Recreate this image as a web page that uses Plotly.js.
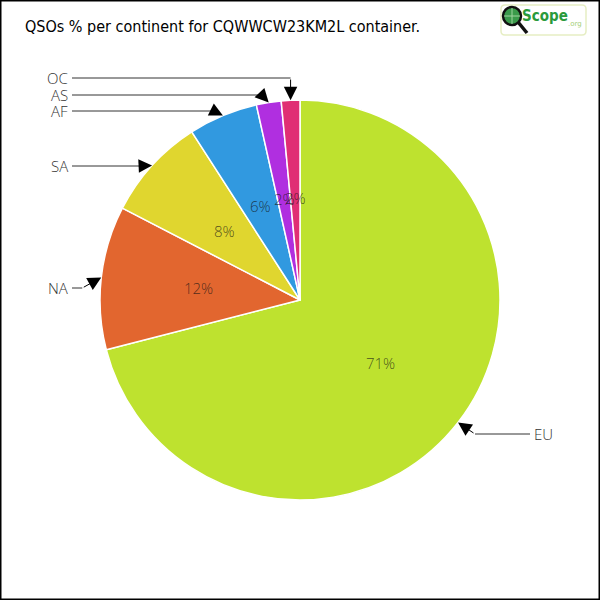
<!DOCTYPE html>
<html>
<head>
<meta charset="utf-8">
<script src="https://cdn.plot.ly/plotly-3.0.1.min.js"></script>
<style>html,body{margin:0;padding:0;background:#fff}#chart{width:600px;height:600px}</style>
</head>
<body>
<div id="chart"></div>
<script>
// ---- data ----
const continents = ['EU', 'NA', 'SA', 'AF', 'AS', 'OC'];
const shares = [71.0, 11.6, 8.3, 5.6, 2.0, 1.5];
const sliceColors = ['#bee22f', '#e2662f', '#e0d62f', '#3199e0', '#b02fe0', '#e02f74'];
const chartTitle = 'QSOs % per continent for CQWWCW23KM2L container.';

// ---- layout geometry (pixels) ----
const W = 600, H = 600, CX = 300, CY = 300, R = 200;
const labelRowY = [434, 288, 166, 111, 95, 78];     // label line rows
const elbowDx = [17, -19, -13, -9, -7, 0];            // elbow offset from tip
const leftLabelX = 70, rightLabelX = 532;

const px = x => x / W, py = y => 1 - y / H;
const total = shares.reduce((a, b) => a + b, 0);

const annotations = [];
const shapes = [];

let cum = 0;
shares.forEach((v, i) => {
  const mid = (cum + v / 2) / total * 2 * Math.PI; // clockwise from top
  cum += v;
  const s = Math.sin(mid), c = Math.cos(mid);
  // percent text
  const rT = 0.51 * R;
  annotations.push({
    xref: 'paper', yref: 'paper', x: px(CX + rT * s), y: py(CY - rT * c),
    text: Math.round(v / total * 100) + '%', showarrow: false,
    xanchor: 'center', yanchor: 'middle',
    font: {family: 'Open Sans', size: 15, weight: 300, color: 'rgba(20,20,20,0.72)'}
  });
  // arrow from elbow to slice edge
  const tipX = CX + R * s, tipY = CY - R * c;
  const ex = tipX + elbowDx[i], ey = labelRowY[i];
  annotations.push({
    xref: 'paper', yref: 'paper', x: px(tipX), y: py(tipY),
    text: '', showarrow: true, ax: ex - tipX, ay: ey - tipY,
    arrowhead: 2, arrowsize: 2.7, arrowwidth: 1, arrowcolor: '#000', standoff: 0
  });
  const right = s > 0;
  shapes.push({
    type: 'line', xref: 'paper', yref: 'paper',
    x0: px(right ? rightLabelX - 2 : leftLabelX + 2), y0: py(ey), x1: px(ex), y1: py(ey),
    line: {color: '#333', width: 1}
  });
  annotations.push({
    xref: 'paper', yref: 'paper', x: px(right ? rightLabelX : leftLabelX), y: py(ey),
    text: continents[i], showarrow: false,
    xanchor: right ? 'left' : 'right', yanchor: 'middle',
    font: {family: 'Open Sans', size: 15, weight: 300, color: '#333'}
  });
});

// frame
shapes.push({type: 'rect', xref: 'paper', yref: 'paper', x0: 0, y0: 0, x1: 1, y1: 1,
  line: {color: '#000', width: 3}});

// logo box
const bx0 = 501, bx1 = 586, by0 = 5, by1 = 35, rr = 4;
shapes.push({type: 'path', xref: 'paper', yref: 'paper',
  path: `M ${px(bx0+rr)} ${py(by0)} L ${px(bx1-rr)} ${py(by0)} Q ${px(bx1)} ${py(by0)} ${px(bx1)} ${py(by0+rr)} ` +
        `L ${px(bx1)} ${py(by1-rr)} Q ${px(bx1)} ${py(by1)} ${px(bx1-rr)} ${py(by1)} ` +
        `L ${px(bx0+rr)} ${py(by1)} Q ${px(bx0)} ${py(by1)} ${px(bx0)} ${py(by1-rr)} ` +
        `L ${px(bx0)} ${py(by0+rr)} Q ${px(bx0)} ${py(by0)} ${px(bx0+rr)} ${py(by0)} Z`,
  line: {color: '#e6eec4', width: 1.5}, fillcolor: '#fff'});
shapes.push({type: 'line', xref: 'paper', yref: 'paper', x0: px(518), y0: py(22), x1: px(527), y1: py(33),
  line: {color: '#111', width: 3.5}});
shapes.push({type: 'circle', xref: 'paper', yref: 'paper', x0: px(503), y0: py(7), x1: px(521), y1: py(25),
  line: {color: '#111', width: 2.5}, fillcolor: '#3a9a4a'});
shapes.push({type: 'line', xref: 'paper', yref: 'paper', x0: px(512), y0: py(8), x1: px(512), y1: py(24),
  line: {color: '#9fd39f', width: 1}});
shapes.push({type: 'line', xref: 'paper', yref: 'paper', x0: px(504), y0: py(16), x1: px(520), y1: py(16),
  line: {color: '#9fd39f', width: 1}});
annotations.push({xref: 'paper', yref: 'paper', x: px(520), y: py(16), xanchor: 'left', yanchor: 'middle',
  text: 'Scope', showarrow: false,
  font: {family: 'DejaVu Sans Condensed', size: 15, weight: 'bold', color: '#2a9a3c'}});
annotations.push({xref: 'paper', yref: 'paper', x: px(566), y: py(24), xanchor: 'left', yanchor: 'middle',
  text: '.org', showarrow: false,
  font: {family: 'DejaVu Sans', size: 7, color: '#a6cf7a'}});

const data = [{
  type: 'pie',
  labels: continents,
  values: shares,
  sort: false,
  direction: 'clockwise',
  rotation: 0,
  marker: {colors: sliceColors, line: {color: '#fff', width: 1.5}},
  textinfo: 'none',
  hoverinfo: 'label+percent',
  domain: {x: [px(CX - R), px(CX + R)], y: [py(CY + R), py(CY - R)]},
  showlegend: false
}];

const layout = {
  width: W, height: H,
  margin: {l: 0, r: 0, t: 0, b: 0},
  paper_bgcolor: '#fff',
  showlegend: false,
  title: {text: chartTitle, x: px(25), xanchor: 'left', y: py(26), yanchor: 'middle',
    font: {family: 'DejaVu Sans Condensed', size: 16, color: '#000'}},
  annotations: annotations,
  shapes: shapes
};

Plotly.newPlot('chart', data, layout, {displayModeBar: false, staticPlot: true});
</script>
</body>
</html>
